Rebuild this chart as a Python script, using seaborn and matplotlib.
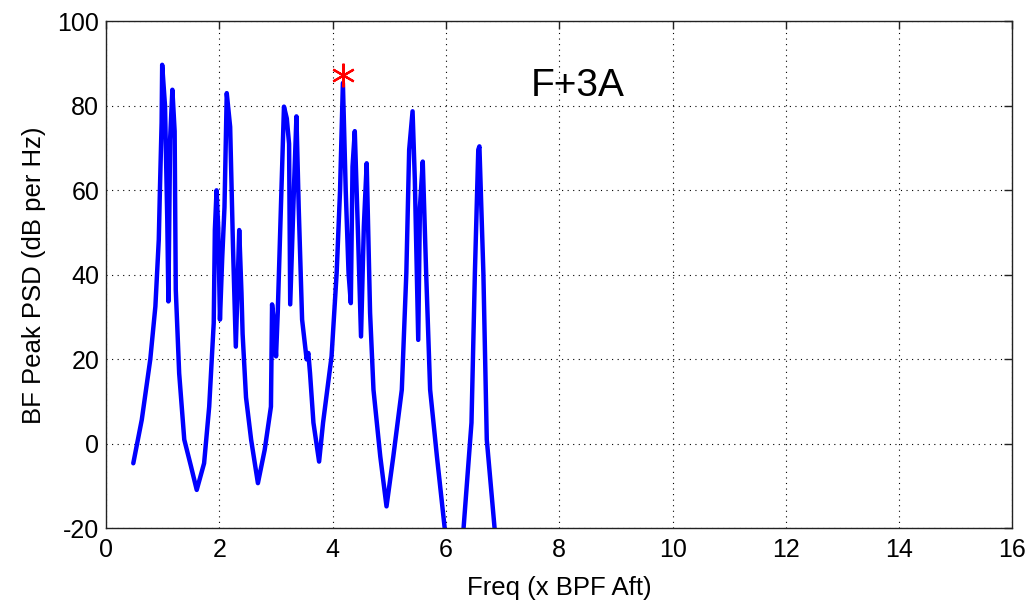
import matplotlib
matplotlib.use("Agg")
import matplotlib.pyplot as plt
import pandas as pd
import seaborn as sns

# values
freq = [0.48, 0.63, 0.78, 0.87, 0.93, 0.95, 0.98, 0.99, 1.04, 1.08,
        1.10, 1.13, 1.17, 1.21, 1.23, 1.29, 1.38, 1.50, 1.60, 1.73,
        1.82, 1.90, 1.92, 1.95, 1.98, 2.01, 2.05, 2.09, 2.13, 2.19,
        2.24, 2.29, 2.35, 2.39, 2.41, 2.47, 2.56, 2.68, 2.80, 2.91,
        2.93, 2.97, 3.00, 3.03, 3.09, 3.14, 3.19, 3.23, 3.25, 3.32,
        3.36, 3.40, 3.46, 3.54, 3.57, 3.60, 3.66, 3.76, 3.83, 3.98,
        4.07, 4.13, 4.18, 4.23, 4.28, 4.32, 4.35, 4.39, 4.45, 4.50,
        4.55, 4.60, 4.66, 4.72, 4.84, 4.95, 5.07, 5.22, 5.30, 5.35,
        5.41, 5.45, 5.51, 5.54, 5.59, 5.65, 5.72, 5.84, 5.98, 6.05,
        6.15, 6.25, 6.31, 6.45, 6.51, 6.57, 6.59, 6.66, 6.72, 6.86,
        6.92]
psd = [-4.6, 5.7, 20, 32.5, 48.3, 60, 76, 89.7, 80, 53,
       33.7, 72, 83.8, 74, 36.5, 16.7, 1, -5.4, -10.9, -4.6,
       8.8, 28.6, 50.6, 60, 51, 29.4, 44, 56, 83, 75,
       46.7, 23, 50.6, 35.7, 26, 11, 1, -9.3, -1.4, 8.8,
       33, 28, 20.7, 31, 57.8, 79.8, 77, 71, 33, 62,
       77.5, 56, 29.4, 20, 21.5, 16.7, 5, -4.2, 5, 20.7,
       40.4, 60, 85.4, 60, 40.4, 33.3, 65.6, 74, 48.3, 25.4,
       51.5, 66.4, 31, 12.8, -3, -14.8, -3, 12.8, 40.4, 69.6,
       78.7, 62.5, 24.6, 56, 66.8, 40.4, 12.8, -3, -20.3, -26,
       -30, -26, -20, 5, 40.4, 69.6, 70.4, 40.4, 1, -20.3,
       -25]
peak_freq = [4.19]
peak_psd = [87.3]
x_ticks = list(range(0, 17, 2))
y_ticks = list(range(-20, 101, 20))

sns.set_style("white")
plt.rcParams["font.family"] = ["Liberation Sans", "DejaVu Sans"]
plt.rcParams["axes.unicode_minus"] = False
for key in ["text.color", "axes.labelcolor", "xtick.color", "ytick.color"]:
    plt.rcParams[key] = "black"

df = pd.DataFrame({"freq": freq, "psd": psd})
peak = pd.DataFrame({"freq": peak_freq, "psd": peak_psd})

fig = plt.figure(figsize=(10.3, 6.08), dpi=100)
ax = fig.add_axes([0.103, 0.131, 0.880, 0.834])

sns.lineplot(data=df, x="freq", y="psd", sort=False, estimator=None,
             color="#0000ff", linewidth=3.2, ax=ax)
ax.plot(peak["freq"], peak["psd"], linestyle="none", marker=(6, 2, 0),
        markersize=17, markeredgewidth=1.6, color="#ff0000", zorder=5)

ax.text(7.5, 82.2, "F+3A", fontsize=28, ha="left", va="baseline")

ax.set_xlim(0, 16)
ax.set_ylim(-20, 100)
ax.set_xticks(x_ticks)
ax.set_yticks(y_ticks)
ax.grid(True, color="black", linestyle=(0, (1, 4)), linewidth=0.8)
ax.set_axisbelow(True)
for s in ax.spines.values():
    s.set_color("#222222")
    s.set_linewidth(1.0)
ax.tick_params(direction="in", top=True, right=True, length=6,
               width=1.0, labelsize=18, color="#222222")
ax.tick_params(axis="x", pad=7)
ax.tick_params(axis="y", pad=5)
ax.set_xlabel("Freq (x BPF Aft)", fontsize=18.5, labelpad=10)
ax.set_ylabel("BF Peak PSD (dB per Hz)", fontsize=18.5, labelpad=8)

fig.savefig("out.png", dpi=100)
plt.close(fig)
